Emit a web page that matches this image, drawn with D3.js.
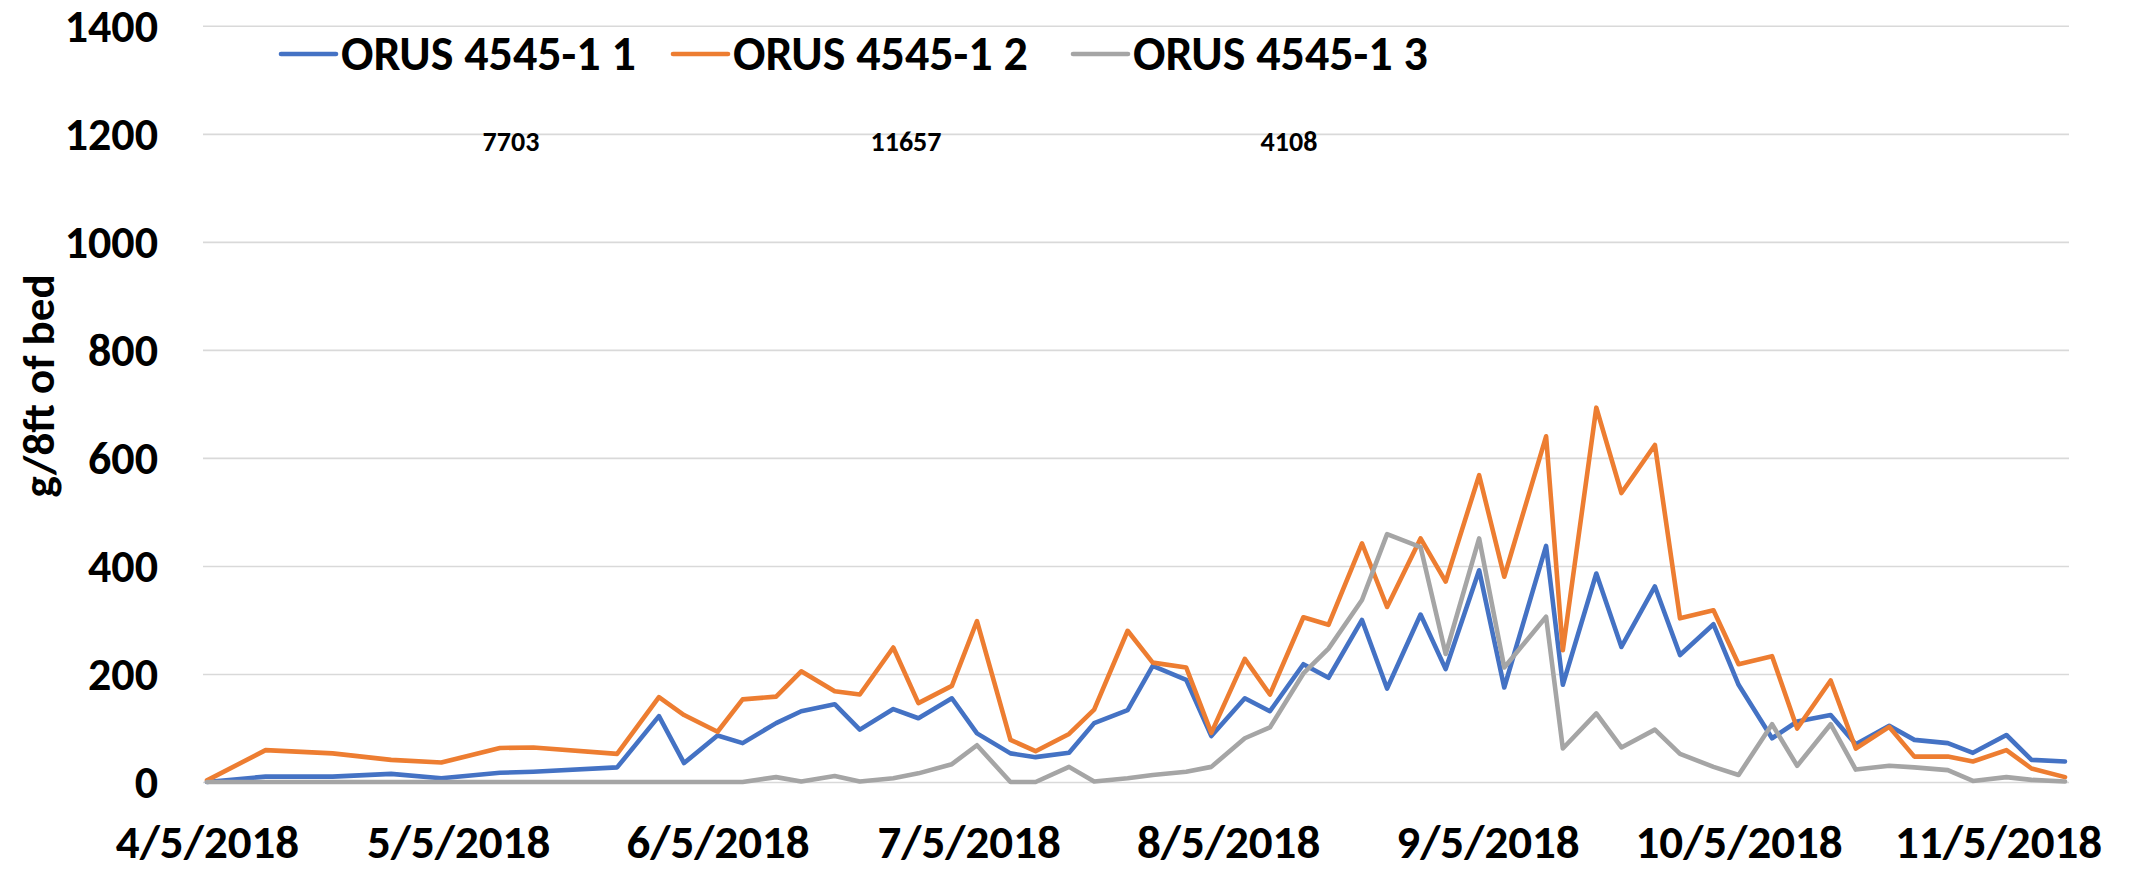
<!DOCTYPE html>
<html>
<head>
<meta charset="utf-8">
<script src="https://cdn.jsdelivr.net/npm/d3@7"></script>
<style>
  html, body { margin: 0; padding: 0; background: #fff; }
  svg { display: block; }
  text { font-family: Carlito, Calibri, 'Liberation Sans Narrow', 'DejaVu Sans Condensed', sans-serif; font-weight: bold; fill: #000; }
</style>
</head>
<body>
<div id="chart"></div>
<script>
// data
const dates = [
  '2018-04-05', '2018-04-12', '2018-04-20', '2018-04-27', '2018-05-03', '2018-05-10', '2018-05-14', '2018-05-24', '2018-05-29', '2018-06-01',
  '2018-06-05', '2018-06-08', '2018-06-12', '2018-06-15', '2018-06-19', '2018-06-22', '2018-06-26', '2018-06-29', '2018-07-03', '2018-07-06',
  '2018-07-10', '2018-07-13', '2018-07-17', '2018-07-20', '2018-07-24', '2018-07-27', '2018-07-31', '2018-08-03', '2018-08-07', '2018-08-10',
  '2018-08-14', '2018-08-17', '2018-08-21', '2018-08-24', '2018-08-28', '2018-08-31', '2018-09-04', '2018-09-07', '2018-09-12', '2018-09-14',
  '2018-09-18', '2018-09-21', '2018-09-25', '2018-09-28', '2018-10-02', '2018-10-05', '2018-10-09', '2018-10-12', '2018-10-16', '2018-10-19',
  '2018-10-23', '2018-10-26', '2018-10-30', '2018-11-02', '2018-11-06', '2018-11-09', '2018-11-13'
];
const rep1 = [
  0, 10, 10, 15, 7, 17, 19, 27, 122, 35,
  86, 72, 109, 131, 144, 97, 135, 118, 155, 90,
  53, 46, 54, 109, 133, 215, 189, 85, 155, 131,
  218, 193, 300, 173, 310, 209, 392, 175, 437, 180,
  386, 250, 362, 235, 292, 180, 81, 112, 124, 70,
  104, 78, 72, 54, 87, 41, 38
];
const rep2 = [
  3, 59, 53, 41, 36, 63, 64, 52, 157, 124,
  93, 153, 158, 205, 168, 162, 249, 146, 178, 298,
  78, 57, 89, 134, 280, 221, 212, 91, 228, 162,
  305, 291, 442, 324, 451, 371, 568, 380, 640, 244,
  693, 535, 624, 303, 318, 218, 233, 99, 188, 62,
  102, 47, 47, 38, 59, 25, 9
];
const rep3 = [
  0, 0, 0, 0, 0, 0, 0, 0, 0, 0,
  0, 0, 9, 1, 11, 1, 7, 16, 33, 68,
  0, 0, 28, 1, 7, 13, 19, 28, 81, 101,
  201, 247, 337, 459, 435, 237, 451, 212, 306, 62,
  127, 64, 97, 52, 28, 13, 107, 30, 107, 23,
  30, 27, 22, 2, 9, 4, 1
];
const seriesNames = ['ORUS 4545-1 1', 'ORUS 4545-1 2', 'ORUS 4545-1 3'];
const totals = ['7703', '11657', '4108'];
const xTickDates = ['2018-04-05', '2018-05-05', '2018-06-05', '2018-07-05', '2018-08-05', '2018-09-05', '2018-10-05', '2018-11-05'];
const yTicks = [0, 200, 400, 600, 800, 1000, 1200, 1400];
const yTitle = 'g/8ft of bed';

// layout
const WIDTH = 2131;
const HEIGHT = 870;
const colors = ['#4472C4', '#ED7D31', '#A5A5A5'];
const halfDay = 4;

const parse = d3.timeParse('%Y-%m-%d');
const fmt = d3.timeFormat('%-m/%-d/%Y');
const dateVals = dates.map(parse);

const x = d3.scaleTime()
  .domain(d3.extent(dateVals))
  .range([207, 2065]);
const y = d3.scaleLinear()
  .domain([0, 1400])
  .range([782, 25.8]);

const plotLeft = x.range()[0] - halfDay;
const plotRight = x.range()[1] + halfDay;

const svg = d3.select('#chart')
  .append('svg')
  .attr('width', WIDTH)
  .attr('height', HEIGHT)
  .attr('viewBox', `0 0 ${WIDTH} ${HEIGHT}`);

svg.append('rect').attr('width', WIDTH).attr('height', HEIGHT).attr('fill', '#fff');

// y axis + gridlines
const yAxis = svg.append('g')
  .attr('transform', `translate(${plotLeft},0)`)
  .call(d3.axisLeft(y)
    .tickValues(yTicks)
    .tickSize(-(plotRight - plotLeft))
    .tickPadding(plotLeft - 158)
    .tickFormat(d3.format('d')));
yAxis.select('.domain').remove();
yAxis.selectAll('.tick line').attr('stroke', '#D9D9D9').attr('stroke-width', 1.6);
yAxis.selectAll('.tick text')
  .attr('font-size', 46)
  .attr('font-family', null)
  .attr('dy', '0.34em');

// x axis labels
const xAxis = svg.append('g')
  .attr('transform', `translate(0,${y(0)})`)
  .call(d3.axisBottom(x)
    .tickValues(xTickDates.map(parse))
    .tickSize(0)
    .tickPadding(0)
    .tickFormat(fmt));
xAxis.select('.domain').remove();
xAxis.selectAll('.tick text')
  .attr('font-size', 47)
  .attr('font-family', null)
  .attr('y', 76)
  .attr('dy', 0);

// y title
svg.append('text')
  .attr('transform', `translate(54,386) rotate(-90)`)
  .attr('text-anchor', 'middle')
  .attr('font-size', 45)
  .text(yTitle);

// lines
const series = [rep1, rep2, rep3].map((vals, i) => ({
  name: seriesNames[i],
  color: colors[i],
  values: vals.map((v, j) => ({ date: dateVals[j], value: v }))
}));

const line = d3.line()
  .x((d) => x(d.date))
  .y((d) => y(d.value));

svg.append('g')
  .selectAll('path')
  .data(series)
  .join('path')
  .attr('d', (d) => line(d.values))
  .attr('fill', 'none')
  .attr('stroke', (d) => d.color)
  .attr('stroke-width', 4.6)
  .attr('stroke-linejoin', 'round')
  .attr('stroke-linecap', 'round');

// totals annotations
const totalX = [511, 906, 1289];
svg.append('g')
  .selectAll('text')
  .data(totals)
  .join('text')
  .attr('x', (d, i) => totalX[i])
  .attr('y', 151)
  .attr('text-anchor', 'middle')
  .attr('font-size', 28)
  .text((d) => d);

// legend
const legend = svg.append('g').attr('transform', 'translate(281,54)');
const legendX = [0, 392, 792];
const item = legend.selectAll('g')
  .data(series)
  .join('g')
  .attr('transform', (d, i) => `translate(${legendX[i]},0)`);
item.append('line')
  .attr('x1', 0).attr('x2', 55)
  .attr('stroke', (d) => d.color)
  .attr('stroke-width', 4.6)
  .attr('stroke-linecap', 'round');
item.append('text')
  .attr('x', 60)
  .attr('dy', '0.34em')
  .attr('font-size', 48)
  .text((d) => d.name);
</script>
</body>
</html>
